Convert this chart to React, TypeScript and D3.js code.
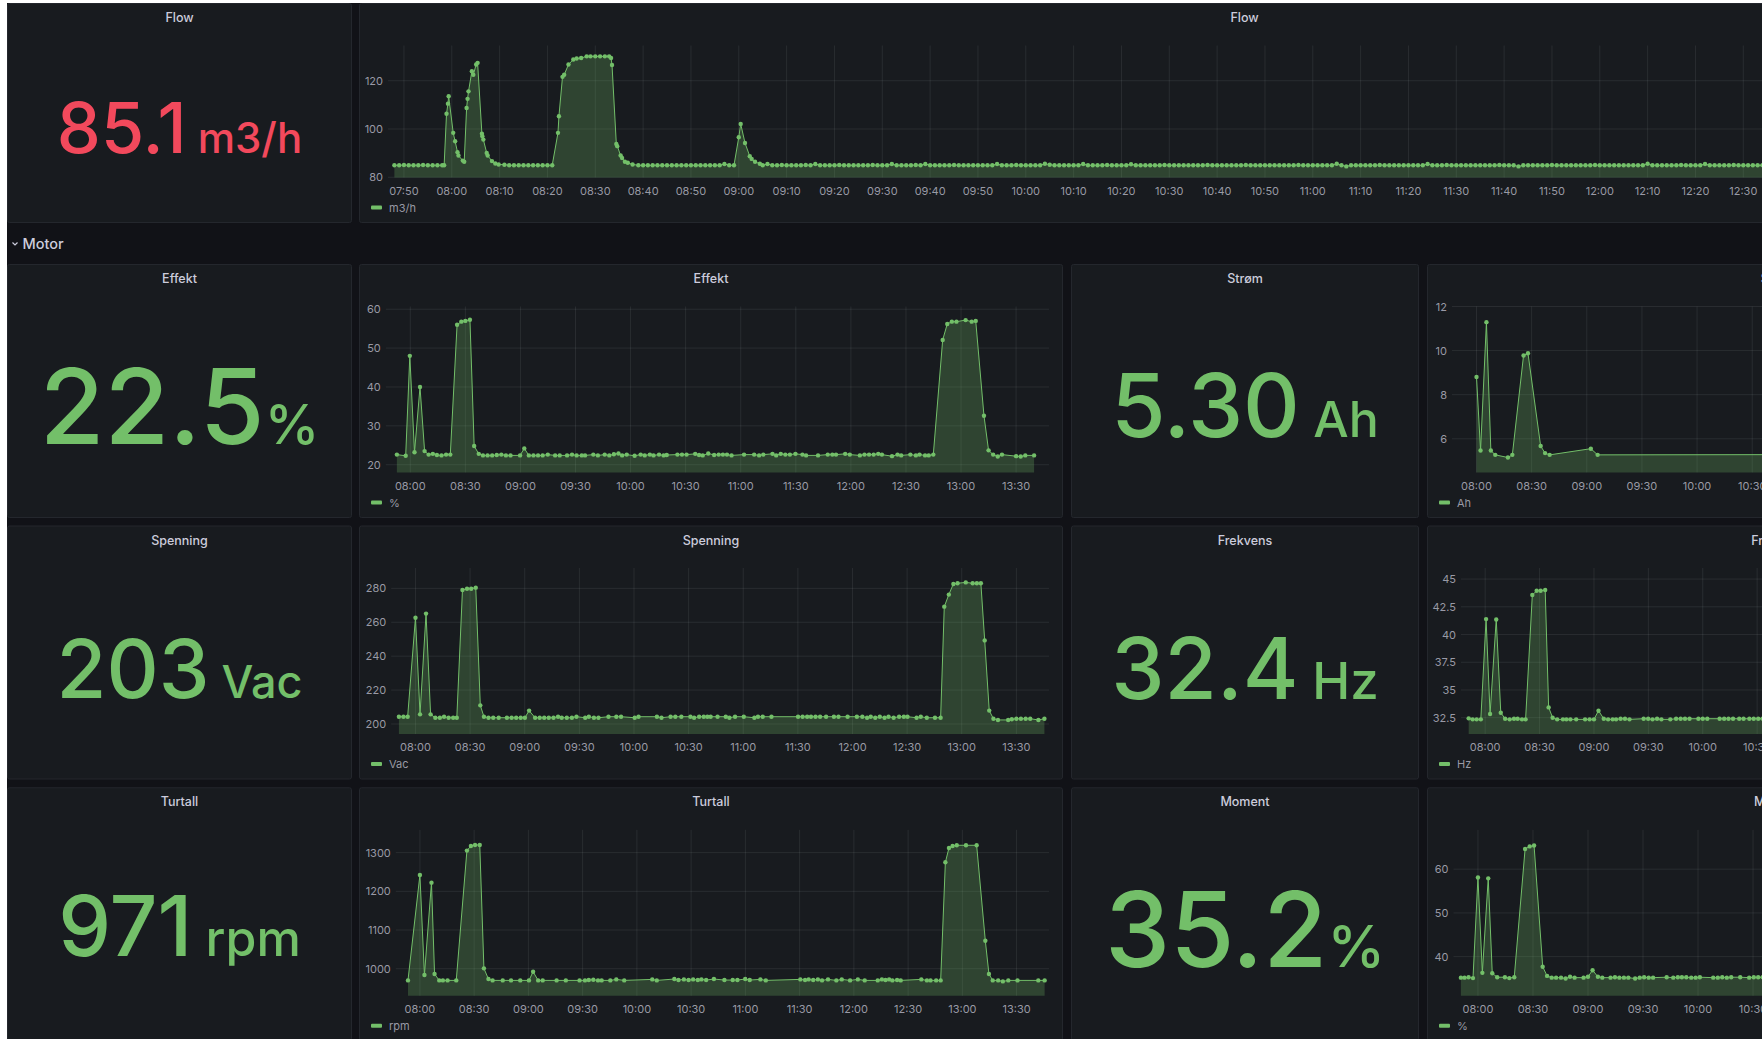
import React from "react";
import * as d3 from "d3";

// ---------- DATA ----------
// time values are minutes relative to 08:00
const TIME_RANGE = ["07:46:40", "13:47:55"];
const FLOW_TIME_TICKS = ["07:50","08:00","08:10","08:20","08:30","08:40","08:50","09:00","09:10","09:20","09:30","09:40","09:50","10:00","10:10","10:20","10:30","10:40","10:50","11:00","11:10","11:20","11:30","11:40","11:50","12:00","12:10","12:20","12:30","12:40","12:50","13:00","13:10","13:20","13:30","13:40"];
const MOTOR_TIME_TICKS = ["08:00","08:30","09:00","09:30","10:00","10:30","11:00","11:30","12:00","12:30","13:00","13:30"];

const FLOW_Y_TICKS = [80, 100, 120];
const EFFEKT_Y_TICKS = [20, 30, 40, 50, 60];
const SPENNING_Y_TICKS = [200, 220, 240, 260, 280];
const TURTALL_Y_TICKS = [1000, 1100, 1200, 1300];
const STROM_Y_TICKS = [6, 8, 10, 12];
const FREKVENS_Y_TICKS = [32.5, 35, 37.5, 40, 42.5, 45];
const MOMENT_Y_TICKS = [40, 50, 60];

const FLOW_Y_DOMAIN = [79.9, 134.6];
const EFFEKT_Y_DOMAIN = [18.0, 60.7];
const SPENNING_Y_DOMAIN = [194.1, 292.0];
const TURTALL_Y_DOMAIN = [930, 1359];
const STROM_Y_DOMAIN = [4.47, 12.0];
const FREKVENS_Y_DOMAIN = [31.03, 46.0];
const MOMENT_Y_DOMAIN = [31.05, 69.0];

const FLOW_HEAD: [number, number][] = [
  [-12,85.0],[-11,85.0],[-10,85.1],[-9,85.0],[-8,85.0],[-7,85.0],[-6,85.1],[-5,85.0],[-4,85.0],[-3,85.0],[-2,85.0],[-1.6,85.0],
  [-1.1,106.3],[-0.8,110.5],[-0.65,113.6],[0.3,98.4],[0.7,94.9],[1.2,90.4],[1.4,89.0],[2.3,86.9],[2.6,86.4],
  [3.1,108.7],[3.3,112.5],[3.5,115.6],[4.2,123.9],[4.5,122.5],[5.1,126.7],[5.4,127.4],
  [6.3,98.0],[6.4,97.0],[6.6,95.6],[7.3,90.1],[7.5,89.0],[8.4,86.7],[9.1,85.7],[9.8,85.3],
  [11,85.2],[12,85.0],[13,85.0],[14,85.0],[15,85.0],[16,85.0],[17,85.0],[18,85.0],[19,85.0],[20,85.0],[21,85.0],
  [22.2,98.4],[22.4,105.3],[23.15,121.6],[23.5,122.5],[24.4,126.7],[25.4,128.8],[26.1,129.2],[27.05,129.4],
  [28.2,130.1],[29,130.1],[30,130.1],[31,130.1],[32,130.1],[32.9,130.1],[33.3,129.4],[33.5,126.5],
  [34.4,93.8],[34.6,92.9],[35.3,89.0],[35.6,88.0],[36.2,86.4],[36.8,86.0],[37.8,85.3],
  [39,85.0],[40,85.0],[41,85.0],[42,85.0],[43,85.0],[44,85.0],[45,85.0],[46,85.0],[47,85.0],[48,85.0],[49,85.0],
  [50,85.0],[51,85.0],[52,85.0],[53,85.0],[54,85.0],[55,85.0],[56,85.0],[57,85.5],[58,85.0],[59,85.0],
  [60.0,96.6],[60.4,102.1],[61.3,94.2],[62.3,88.7],[62.7,87.6],[63.4,86.4],[64.4,85.6],
];
// one reading per minute from 09:05 (minute 65) onward
const FLOW_TAIL_START = 65;
const FLOW_TAIL: number[] = [
  85.0,85.5,85.0,85.0,85.1,85.0,85.0,85.0,85.0,85.1,
  85.0,85.5,85.0,85.0,85.0,85.0,85.1,85.0,85.0,85.0,
  85.0,85.0,85.0,85.1,85.0,85.0,85.0,85.5,85.0,85.0,
  85.0,85.0,85.1,85.0,85.5,85.0,85.0,85.0,85.0,85.0,
  85.1,85.0,85.0,85.0,85.0,85.0,85.0,85.0,85.0,85.5,
  85.0,85.0,85.0,85.1,85.0,85.0,85.0,85.0,85.0,85.6,
  85.2,85.0,85.0,85.0,85.0,85.0,85.0,85.5,85.0,85.0,
  85.0,85.0,85.1,85.0,85.0,85.0,85.0,85.4,85.0,85.0,
  85.0,85.0,85.0,85.0,85.1,85.0,85.0,85.0,85.0,85.0,
  85.0,85.0,85.0,85.1,85.0,85.0,85.0,85.0,85.0,85.0,
  85.0,85.1,85.0,85.0,85.0,85.0,85.0,85.0,85.0,85.0,
  85.0,85.0,85.1,85.0,85.0,85.0,85.0,85.0,85.0,85.0,
  85.6,85.0,84.5,85.0,85.0,85.0,85.0,85.0,85.0,85.1,
  85.0,85.0,85.0,85.0,85.0,85.0,85.0,85.0,85.0,85.5,
  85.0,85.0,85.0,85.1,85.0,85.0,85.0,85.0,85.0,85.0,
  85.0,85.0,85.0,85.0,85.1,85.0,85.0,85.0,84.5,85.0,
  85.0,85.0,85.0,85.0,85.0,85.1,85.0,85.0,85.0,85.0,
  85.0,85.0,85.0,85.0,85.1,85.0,85.0,85.0,85.0,85.0,
  85.0,85.0,85.0,85.0,85.0,85.6,85.0,85.0,85.0,85.0,
  85.0,85.0,85.1,85.0,85.0,85.0,85.0,85.5,85.0,85.0,
  85.0,85.0,85.0,85.1,85.0,85.0,85.0,85.0,85.0,85.0,
  85.0,85.1,
];

const EFFEKT: [number, number][] = [
  [-7.3,22.6],[-2.5,22.3],[-0.25,48.0],[2.3,23.2],[5.3,40.0],[7.8,23.5],[10.0,22.6],[12.3,22.8],[14.5,22.5],[17.0,22.4],[19.5,22.6],[21.8,22.6],
  [25.5,56.0],[27.8,56.8],[30.0,57.0],[32.5,57.3],[34.8,24.8],[37.3,22.8],[39.6,22.4],[42.1,22.4],[44.6,22.4],[47.1,22.5],[49.6,22.6],[52.1,22.4],[54.6,22.4],
  [59.8,22.4],[62.1,24.2],[64.6,22.4],[67.1,22.4],[69.6,22.4],[72.1,22.4],[74.9,22.6],[78.9,22.4],[81.4,22.4],[85.4,22.4],[88.1,22.6],[90.6,22.4],[93.4,22.4],[95.2,22.4],
  [99.7,22.6],[102.2,22.4],[105.9,22.6],[108.4,22.4],[110.9,22.7],[113.4,22.9],[115.4,22.4],[117.9,22.6],[122.2,22.3],[125.5,22.6],[127.7,22.4],[130.5,22.6],[132.5,22.4],
  [135.5,22.6],[138.0,22.4],[139.7,22.5],[145.5,22.6],[148.0,22.6],[150.5,22.6],[155.2,22.8],[157.3,22.5],[159.3,22.4],[162.3,22.9],[165.5,22.5],[168.0,22.6],[170.3,22.6],
  [172.5,22.6],[175.0,22.4],[181.8,22.6],[187.3,22.6],[190.0,22.4],[192.3,22.6],[197.3,22.8],[199.3,22.4],[201.8,22.8],[204.3,22.6],[206.8,22.6],[209.8,22.8],[213.6,22.6],
  [215.6,22.4],[222.1,22.4],[227.4,22.6],[229.9,22.6],[231.9,22.6],[236.9,22.8],[239.4,22.6],[244.9,22.4],[247.4,22.6],[249.9,22.6],[252.4,22.6],[254.9,22.8],[256.9,22.6],
  [262.4,22.2],[265.4,22.6],[267.4,22.4],[272.4,22.6],[275.4,22.4],[277.4,22.6],[280.4,22.4],[282.4,22.4],[284.9,22.6],
  [290.0,52.1],[292.5,56.2],[295.0,56.8],[297.5,56.8],[302.5,57.2],[305.8,56.8],[308.0,57.0],[312.5,32.6],[315.0,23.7],[317.5,22.6],[320.0,22.1],[322.3,22.6],
  [330.0,22.2],[332.5,22.1],[335.0,22.4],[339.8,22.4],
];

const SPENNING: [number, number][] = [
  [-9.1,204.3],[-6.6,204.3],[-4.3,204.3],[0,262.7],[2.5,205.7],[5.8,265.1],[8.3,205.7],[10.9,203.7],[13.4,203.7],[15.7,204.3],[18.2,203.7],[20.7,203.7],[22.7,203.7],
  [25.8,279.0],[28.3,279.8],[30.6,279.8],[33.1,280.4],[35.6,211.0],[37.6,204.3],[40.1,203.7],[42.7,203.7],[45.7,203.7],[50.2,203.7],[52.8,203.7],[55.3,203.7],[57.8,203.7],
  [60.1,203.7],[62.4,207.9],[65.7,203.7],[68.2,203.7],[70.7,203.7],[73.2,203.7],[75.8,203.7],[78.3,204.3],[80.3,203.7],[83.1,203.7],[85.9,203.7],[88.4,204.3],[93.2,203.7],
  [95.2,204.3],[98.0,203.7],[100.5,203.7],[106.0,204.3],[110.3,204.3],[112.9,204.3],[120.4,203.7],[122.5,204.3],[132.6,204.3],[135.1,203.7],[140.1,204.3],[142.7,204.3],
  [146.0,204.3],[151.0,204.3],[153.0,203.7],[155.8,204.3],[158.3,204.3],[160.3,204.3],[162.1,204.3],[165.9,204.3],[170.4,204.3],[172.4,203.7],[175.5,204.3],[180.3,204.3],
  [186.1,203.7],[188.1,204.3],[190.7,204.3],[195.5,204.3],[210.1,204.3],[212.6,204.3],[215.1,204.3],[217.2,204.3],[219.7,204.3],[222.2,204.3],[225.5,204.3],[229.8,204.3],
  [232.3,204.3],[237.3,204.3],[242.4,204.3],[245.4,204.3],[248.0,203.7],[250.0,204.3],[252.5,203.7],[255.0,204.3],[257.6,203.7],[259.8,204.3],[262.6,203.7],[265.6,204.3],
  [268.2,204.3],[270.2,204.3],[275.2,203.7],[277.5,204.3],[280.8,203.7],[285.3,203.7],[288.4,203.7],
  [290.4,269.2],[292.9,276.3],[295.4,282.6],[297.7,283.0],[302.2,283.5],[306.0,283.0],[308.3,283.0],[310.5,283.0],[312.6,249.3],[315.1,207.9],[317.4,203.1],[319.9,202.4],
  [325.5,202.4],[327.5,202.8],[330.0,203.1],[332.5,203.1],[335.1,203.1],[337.6,203.1],[342.1,202.4],[345.4,203.1],
];

const TURTALL: [number, number][] = [
  [-6.6,969.8],[0,1242.2],[2.5,983.6],[6.4,1222.4],[8.1,986.2],[10.7,969.8],[12.7,969.8],[15.3,969.8],[20.1,969.8],
  [26.0,1305.2],[28.2,1317.2],[30.5,1319.8],[33.1,1319.8],[35.4,1000.9],[37.9,973.3],[40.2,969.8],[45.8,969.8],[50.4,969.8],[55.5,969.8],[60.3,969.8],
  [62.6,992.2],[65.4,969.8],[67.9,969.8],[75.6,969.8],[80.7,969.8],[88.3,969.8],[91.3,969.8],[93.4,970.7],[95.9,971.6],[98.5,969.8],[100.5,969.8],[105.3,969.8],
  [108.6,972.4],[113.0,969.8],[128.5,972.4],[131.0,969.8],[140.7,973.3],[143.0,970.7],[146.0,972.4],[148.6,970.7],[151.1,972.4],[153.7,970.7],[155.7,972.4],
  [158.3,970.7],[162.6,973.3],[168.4,970.7],[173.0,970.7],[175.6,970.7],[179.9,973.3],[182.4,970.7],[188.3,972.4],[191.3,969.8],[210.4,972.4],[213.0,970.7],
  [215.0,972.4],[217.5,970.7],[220.1,972.4],[222.4,969.8],[225.7,972.4],[230.3,969.8],[233.3,972.4],[237.9,969.8],[242.2,972.4],[246.0,969.8],[253.2,969.8],
  [255.5,972.4],[257.5,970.7],[259.5,972.4],[261.3,969.8],[263.9,970.7],[265.9,969.8],[277.3,972.4],[280.4,969.8],[282.4,969.8],[285.5,969.8],[288.0,969.8],
  [290.6,1275.0],[292.6,1312.1],[294.6,1317.2],[296.9,1319.0],[302.0,1319.0],[307.9,1319.0],[312.7,1072.4],[314.7,986.2],[316.8,969.8],[319.8,969.8],
  [322.4,967.2],[325.4,969.8],[330.5,969.8],[342.0,969.8],[345.5,969.8],
];

const STROM: [number, number][] = [
  [0,8.8],[2.2,5.47],[5.4,11.29],[7.8,5.47],[10.2,5.27],[17.1,5.15],[19.5,5.27],[25.6,9.78],[28.0,9.88],[34.9,5.67],[37.3,5.35],[39.8,5.27],
  [62.2,5.55],[65.9,5.27],[345,5.30],
];

const FREKVENS: [number, number][] = [
  [-9.1,32.44],[-6.9,32.35],[-4.7,32.35],[-2.4,32.35],[0.5,41.39],[2.7,32.83],[6.1,41.36],[8.6,32.95],[11.0,32.41],[13.5,32.35],[15.9,32.41],[17.9,32.41],[20.3,32.35],[22.3,32.35],
  [26.0,43.56],[28.4,43.95],[30.6,43.95],[33.1,44.01],[35.0,33.43],[37.2,32.5],[39.7,32.35],[42.9,32.35],[44.8,32.35],[47.0,32.35],[50.2,32.35],[55.1,32.35],[57.6,32.35],
  [60.0,32.35],[62.5,33.13],[65.4,32.41],[67.8,32.35],[70.3,32.35],[72.2,32.35],[74.7,32.41],[77.1,32.41],[79.6,32.35],[87.4,32.41],[89.9,32.41],[92.3,32.35],[94.8,32.41],
  [97.2,32.35],[102.1,32.35],[105.3,32.41],[107.8,32.41],[110.2,32.41],[112.7,32.41],[117.6,32.41],[120.0,32.41],[122.5,32.41],[129.3,32.41],[131.8,32.41],[134.2,32.41],
  [136.7,32.41],[140.1,32.41],[142.5,32.41],[145.7,32.41],[148.1,32.41],[150.6,32.41],[153.0,32.41],
];

const MOMENT: [number, number][] = [
  [-9.3,35.2],[-7.3,35.2],[-5.1,35.3],[-2.7,35.1],[0,58.1],[2.4,36.3],[5.6,57.9],[7.8,36.2],[10.5,35.3],[14.7,35.3],[17.1,35.1],[19.8,35.3],
  [25.7,64.6],[28.2,65.2],[30.6,65.4],[35.3,37.7],[37.7,35.6],[40.2,35.2],[42.6,35.2],[45.3,35.2],[47.8,35.0],[50.2,35.4],[52.7,35.2],[57.6,35.2],[60.0,35.4],
  [62.5,36.9],[65.4,35.4],[67.8,35.2],[72.3,35.2],[74.7,35.3],[77.1,35.2],[79.6,35.2],[82.0,35.2],[85.7,35.0],[88.2,35.2],[90.6,35.3],[93.1,35.2],[95.5,35.2],
  [102.9,35.3],[106.5,35.2],[109.0,35.3],[111.2,35.3],[113.6,35.3],[116.3,35.2],[118.7,35.2],[121.0,35.3],[128.3,35.2],[130.8,35.2],[133.2,35.3],[135.7,35.2],
  [138.1,35.3],[143.0,35.3],[147.9,35.2],[150.4,35.3],[152.8,35.3],[155.3,35.3],
];

const STAT_VALUES = ["85.1", "22.5", "203", "971", "5.30", "32.4", "35.2"];
const STAT_UNITS = ["m3/h", "%", "Vac", "rpm", "Ah", "Hz", "%"];

// ---------- STYLE / LAYOUT ----------
const VIEW_W = 1762;
const GREEN = "#73BF69";
const RED = "#F2495C";
const PAGE_BG = "#111217";
const PANEL_BG = "#181b1f";
const PANEL_BORDER = "#24272d";
const TITLE_COLOR = "#ccccdc";
const AXIS_COLOR = "rgba(204,204,220,0.72)";
const GRID_COLOR = "rgba(240,250,255,0.08)";
const FONT = "Inter, 'Noto Sans', sans-serif";

const toMin = (s: string) => {
  const p = s.split(":").map(Number);
  return p[0] * 60 + p[1] + (p[2] || 0) / 60 - 480;
};

const FLOW_SERIES: [number, number][] = [
  ...FLOW_HEAD,
  ...FLOW_TAIL.map((v, i) => [FLOW_TAIL_START + i, v] as [number, number]),
];

type TsProps = {
  x: number; y: number; w: number; h: number; title: string;
  data: [number, number][]; yDomain: number[]; yTicks: number[];
  xTicks: string[]; axisW: number; legend: string;
};

function TsPanel({ x, y, w, h, title, data, yDomain, yTicks, xTicks, axisW, legend }: TsProps) {
  const L = x + axisW;
  const R = x + w - 14;
  const top = y + 42.5;
  const bottom = y + h - 45.5;
  const xs = d3.scaleLinear().domain(TIME_RANGE.map(toMin)).range([L, R]);
  const ys = d3.scaleLinear().domain(yDomain).range([bottom, top]);
  const area = d3.area<[number, number]>().x((d) => xs(d[0])).y0(bottom).y1((d) => ys(d[1]));
  const line = d3.line<[number, number]>().x((d) => xs(d[0])).y((d) => ys(d[1]));
  const visTicks = xTicks.filter((s) => xs(toMin(s)) - 14 < VIEW_W);
  return (
    <g>
      <rect x={x + 0.5} y={y + 0.5} width={w - 1} height={h - 1} rx={2} fill={PANEL_BG} stroke={PANEL_BORDER} />
      <text x={x + w / 2} y={y + 19} textAnchor="middle" fill={TITLE_COLOR} fontSize={12.5} fontWeight={500}>{title}</text>
      {yTicks.map((t) => (
        <g key={"y" + t}>
          <line x1={L} x2={R} y1={ys(t)} y2={ys(t)} stroke={GRID_COLOR} />
          <text x={L - 5} y={ys(t) + 4} textAnchor="end" fill={AXIS_COLOR} fontSize={11}>{String(t)}</text>
        </g>
      ))}
      {xTicks.map((s) => {
        const xv = xs(toMin(s));
        return <line key={"g" + s} x1={xv} x2={xv} y1={top} y2={bottom} stroke={GRID_COLOR} />;
      })}
      {visTicks.map((s) => (
        <text key={"x" + s} x={xs(toMin(s))} y={bottom + 17} textAnchor="middle" fill={AXIS_COLOR} fontSize={11}>{s}</text>
      ))}
      <path d={area(data) || ""} fill={GREEN} fillOpacity={0.25} />
      <path d={line(data) || ""} fill="none" stroke={GREEN} strokeWidth={1} />
      {data.map((d, i) => (
        <circle key={i} cx={xs(d[0])} cy={ys(d[1])} r={2.2} fill={GREEN} />
      ))}
      <rect x={x + 12} y={bottom + 28} width={11} height={4} rx={1} fill={GREEN} />
      <text x={x + 30} y={bottom + 34} fill={AXIS_COLOR} fontSize={11}>{legend}</text>
    </g>
  );
}

type StatProps = {
  x: number; y: number; w: number; h: number; title: string; value: string; unit: string;
  color: string; vSize: number; uSize: number; base: number;
};

function StatPanel({ x, y, w, h, title, value, unit, color, vSize, uSize, base }: StatProps) {
  const u = unit === "%" ? unit : " " + unit;
  return (
    <g>
      <rect x={x + 0.5} y={y + 0.5} width={w - 1} height={h - 1} rx={2} fill={PANEL_BG} stroke={PANEL_BORDER} />
      <text x={x + w / 2} y={y + 19} textAnchor="middle" fill={TITLE_COLOR} fontSize={12.5} fontWeight={500}>{title}</text>
      <text x={x + w / 2} y={y + base} textAnchor="middle" fill={color} fontWeight={500} style={{ whiteSpace: "pre" }}>
        <tspan fontSize={vSize}>{value}</tspan>
        <tspan fontSize={uSize}>{u}</tspan>
      </text>
    </g>
  );
}

export default function App() {
  const C = { s1: [7, 345], t1: [359, 704], s2: [1071, 348], t2: [1427, 703] };
  const Rw = { top: [3, 220], r2: [264, 254], r3: [525.5, 254], r4: [787.3, 254] };
  return (
    <div style={{ position: "fixed", left: 0, top: 0 }}>
      <svg width={VIEW_W} height={1039} style={{ display: "block", fontFamily: FONT }}>
        <rect x={0} y={0} width={VIEW_W} height={1039} fill="#ffffff" />
        <rect x={7} y={3} width={VIEW_W - 7} height={1036} fill={PAGE_BG} />

        <StatPanel x={C.s1[0]} y={Rw.top[0]} w={C.s1[1]} h={Rw.top[1]} title="Flow" value={STAT_VALUES[0]} unit={STAT_UNITS[0]} color={RED} vSize={70} uSize={42} base={150} />
        <TsPanel x={C.t1[0]} y={Rw.top[0]} w={2130 - C.t1[0]} h={Rw.top[1]} title="Flow" data={FLOW_SERIES} yDomain={FLOW_Y_DOMAIN} yTicks={FLOW_Y_TICKS} xTicks={FLOW_TIME_TICKS} axisW={29} legend="m3/h" />

        <path d="M12.5 242.5 L15 245 L17.5 242.5" fill="none" stroke={TITLE_COLOR} strokeWidth={1.2} />
        <text x={22.5} y={248.5} fill={TITLE_COLOR} fontSize={14.5} fontWeight={500}>Motor</text>

        <StatPanel x={C.s1[0]} y={Rw.r2[0]} w={C.s1[1]} h={Rw.r2[1]} title="Effekt" value={STAT_VALUES[1]} unit={STAT_UNITS[1]} color={GREEN} vSize={105} uSize={55} base={179.8} />
        <TsPanel x={C.t1[0]} y={Rw.r2[0]} w={C.t1[1]} h={Rw.r2[1]} title="Effekt" data={EFFEKT} yDomain={EFFEKT_Y_DOMAIN} yTicks={EFFEKT_Y_TICKS} xTicks={MOTOR_TIME_TICKS} axisW={26.8} legend="%" />
        <StatPanel x={C.s2[0]} y={Rw.r2[0]} w={C.s2[1]} h={Rw.r2[1]} title="Strøm" value={STAT_VALUES[4]} unit={STAT_UNITS[4]} color={GREEN} vSize={88} uSize={50} base={172.7} />
        <TsPanel x={C.t2[0]} y={Rw.r2[0]} w={C.t2[1]} h={Rw.r2[1]} title="Strøm" data={STROM} yDomain={STROM_Y_DOMAIN} yTicks={STROM_Y_TICKS} xTicks={MOTOR_TIME_TICKS} axisW={25} legend="Ah" />

        <StatPanel x={C.s1[0]} y={Rw.r3[0]} w={C.s1[1]} h={Rw.r3[1]} title="Spenning" value={STAT_VALUES[2]} unit={STAT_UNITS[2]} color={GREEN} vSize={81} uSize={45} base={172} />
        <TsPanel x={C.t1[0]} y={Rw.r3[0]} w={C.t1[1]} h={Rw.r3[1]} title="Spenning" data={SPENNING} yDomain={SPENNING_Y_DOMAIN} yTicks={SPENNING_Y_TICKS} xTicks={MOTOR_TIME_TICKS} axisW={32.2} legend="Vac" />
        <StatPanel x={C.s2[0]} y={Rw.r3[0]} w={C.s2[1]} h={Rw.r3[1]} title="Frekvens" value={STAT_VALUES[5]} unit={STAT_UNITS[5]} color={GREEN} vSize={85} uSize={51} base={173.3} />
        <TsPanel x={C.t2[0]} y={Rw.r3[0]} w={C.t2[1]} h={Rw.r3[1]} title="Frekvens" data={FREKVENS} yDomain={FREKVENS_Y_DOMAIN} yTicks={FREKVENS_Y_TICKS} xTicks={MOTOR_TIME_TICKS} axisW={34} legend="Hz" />

        <StatPanel x={C.s1[0]} y={Rw.r4[0]} w={C.s1[1]} h={Rw.r4[1]} title="Turtall" value={STAT_VALUES[3]} unit={STAT_UNITS[3]} color={GREEN} vSize={84} uSize={50} base={168.2} />
        <TsPanel x={C.t1[0]} y={Rw.r4[0]} w={C.t1[1]} h={Rw.r4[1]} title="Turtall" data={TURTALL} yDomain={TURTALL_Y_DOMAIN} yTicks={TURTALL_Y_TICKS} xTicks={MOTOR_TIME_TICKS} axisW={36.8} legend="rpm" />
        <StatPanel x={C.s2[0]} y={Rw.r4[0]} w={C.s2[1]} h={Rw.r4[1]} title="Moment" value={STAT_VALUES[6]} unit={STAT_UNITS[6]} color={GREEN} vSize={104} uSize={58} base={179.4} />
        <TsPanel x={C.t2[0]} y={Rw.r4[0]} w={C.t2[1]} h={Rw.r4[1]} title="Moment" data={MOMENT} yDomain={MOMENT_Y_DOMAIN} yTicks={MOMENT_Y_TICKS} xTicks={MOTOR_TIME_TICKS} axisW={26.5} legend="%" />
      </svg>
    </div>
  );
}
